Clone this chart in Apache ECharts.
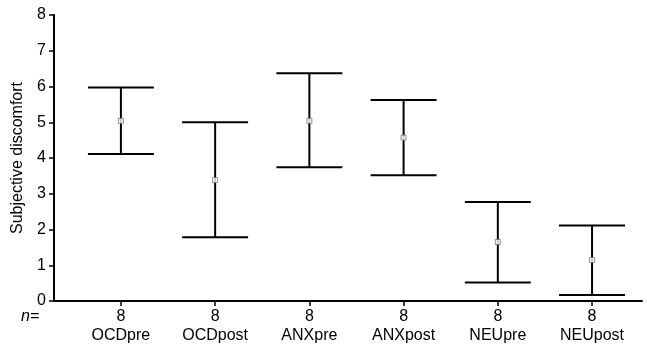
<!DOCTYPE html>
<html>
<head>
<meta charset="utf-8">
<script src="https://cdn.jsdelivr.net/npm/echarts@6/dist/echarts.min.js"></script>
<style>
  html, body { margin: 0; padding: 0; background: #fff; }
  #chart { width: 647px; height: 345px; }
</style>
</head>
<body>
<div id="chart"></div>
<script>
// values
const categories = ['OCDpre', 'OCDpost', 'ANXpre', 'ANXpost', 'NEUpre', 'NEUpost']
const nValues = [8, 8, 8, 8, 8, 8]
const means = [5.04, 3.38, 5.04, 4.57, 1.65, 1.15]
const lower = [4.11, 1.78, 3.74, 3.52, 0.52, 0.17]
const upper = [5.97, 5.0, 6.37, 5.62, 2.77, 2.11]
const yTicks = [0, 1, 2, 3, 4, 5, 6, 7, 8]

const positions = categories.map((c, i) => i + 1)
const font = 'Liberation Sans, Arial, sans-serif'

const chart = echarts.init(document.getElementById('chart'))

const option = {
  animation: false,
  grid: { left: 54, right: 5, top: 15, bottom: 44 },
  xAxis: {
    type: 'value',
    min: 0.29,
    max: 6.53,
    splitLine: { show: false },
    axisLine: { lineStyle: { color: '#000', width: 2 } },
    axisTick: {
      customValues: positions,
      length: 5,
      lineStyle: { color: '#000', width: 1.5 },
    },
    axisLabel: {
      customValues: positions,
      margin: 6,
      color: '#000',
      fontFamily: font,
      fontSize: 16,
      lineHeight: 19,
      formatter: (v) => {
        const i = Math.round(v) - 1
        return nValues[i] + '\n' + categories[i]
      },
    },
  },
  yAxis: {
    type: 'value',
    min: 0,
    max: 8,
    interval: 1,
    name: 'Subjective discomfort',
    nameLocation: 'middle',
    nameGap: 28,
    nameTextStyle: { color: '#000', fontFamily: font, fontSize: 16 },
    splitLine: { show: false },
    axisLine: { show: true, lineStyle: { color: '#000', width: 2 } },
    axisTick: { show: true, length: 5, lineStyle: { color: '#000', width: 1.5 } },
    axisLabel: {
      color: '#000',
      fontFamily: font,
      fontSize: 16,
      margin: 8,
      customValues: yTicks,
    },
  },
  graphic: [
    {
      type: 'text',
      left: 21,
      top: 309,
      style: {
        text: 'n=',
        font: 'italic 16px ' + font,
        fill: '#000',
      },
    },
  ],
  series: [
    {
      type: 'custom',
      data: positions.map((p, i) => [p, lower[i], upper[i]]),
      renderItem: (params, api) => {
        const x = api.value(0)
        const lo = api.coord([x, api.value(1)])
        const hi = api.coord([x, api.value(2)])
        const half = api.size([0.35, 0])[0]
        const style = { stroke: '#000', lineWidth: 2 }
        return {
          type: 'group',
          children: [
            { type: 'line', shape: { x1: lo[0], y1: lo[1], x2: hi[0], y2: hi[1] }, style },
            { type: 'line', shape: { x1: hi[0] - half, y1: hi[1], x2: hi[0] + half, y2: hi[1] }, style },
            { type: 'line', shape: { x1: lo[0] - half, y1: lo[1], x2: lo[0] + half, y2: lo[1] }, style },
          ],
        }
      },
      z: 2,
    },
    {
      type: 'scatter',
      data: positions.map((p, i) => [p, means[i]]),
      symbol: 'rect',
      symbolSize: 5,
      itemStyle: { color: '#fff', borderColor: '#777', borderWidth: 1 },
      z: 3,
    },
  ],
}

chart.setOption(option)
</script>
</body>
</html>
